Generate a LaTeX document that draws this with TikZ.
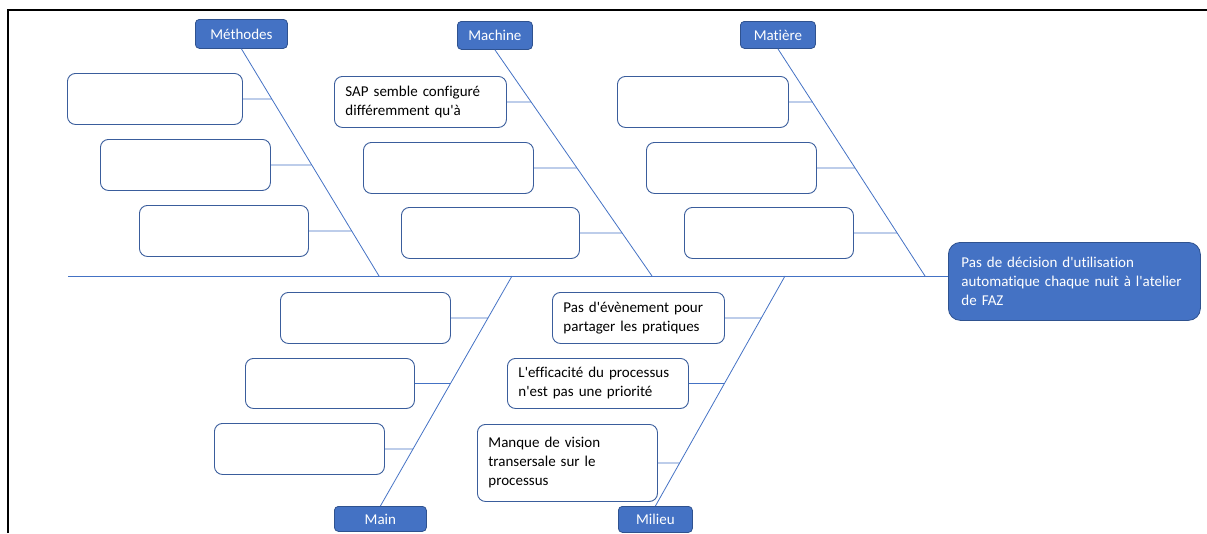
\documentclass[tikz,border=0pt]{standalone}
\usepackage{fontspec}
\setmainfont{Carlito}[Ligatures={TeXOff,CommonOff}]
\usetikzlibrary{intersections}
\definecolor{catfill}{HTML}{4472C4}
\definecolor{catedge}{HTML}{2F528F}
\definecolor{causeedge}{HTML}{3A5D9C}
\definecolor{bonecolor}{HTML}{4472C4}
% horizontal rib from a cause box (#2) to its bone path (#1)
\newcommand\ribto[2]{%
  \path[name path=rib#2] (#2.east) -- ++(300,0);
  \draw[bone, name intersections={of=#1 and rib#2}] (#2.east) -- (intersection-1);}
\begin{document}
\begin{tikzpicture}[x=1pt,y=-1pt,
  every node/.style={font=\fontsize{15}{19}\selectfont},
  category/.style={fill=catfill, draw=catedge, line width=0.8pt, rounded corners=4pt,
    text=white, anchor=north west, inner sep=0pt},
  cause/.style={draw=causeedge, fill=white, line width=0.9pt, rounded corners=8pt,
    anchor=north west, align=left, inner xsep=11pt, inner ysep=0pt, text=black},
  effectbox/.style={fill=catfill, draw=catedge, line width=0.8pt, rounded corners=12pt,
    text=white, anchor=north west, align=left, inner xsep=13pt, inner ysep=0pt},
  bone/.style={draw=bonecolor, line width=0.8pt}]
\useasboundingbox (0,0) rectangle (1207,533);

% page frame
\draw[line width=1.4pt] (8,533) -- (8,10) -- (1207,10);

% categories
\node[category, minimum width=92pt, minimum height=29pt] (meth) at (195,19) {Méthodes};
\node[category, minimum width=75pt, minimum height=28pt] (mach) at (457,21) {Machine};
\node[category, minimum width=75pt, minimum height=27pt] (mat)  at (740,21) {Matière};
\node[category, minimum width=92pt, minimum height=25pt] (main) at (334,506) {Main};
\node[category, minimum width=74pt, minimum height=26pt] (mil)  at (618,506) {Milieu};

% effect
\node[effectbox, minimum width=250pt, text width=226pt, minimum height=78pt] (eff) at (948,242)
  {Pas de décision d'utilisation\\automatique chaque nuit à l'atelier\\de FAZ};

% spine
\coordinate (tail) at (68,276);
\draw[bone] (tail) -- (tail -| eff.west);

% bones
\coordinate (methS) at (379,276);
\coordinate (machS) at (652,276);
\coordinate (matS)  at (925,276);
\coordinate (mainS) at (512,276);
\coordinate (milS)  at (785,276);
\draw[bone, name path=bmeth] (meth.south) -- (methS);
\draw[bone, name path=bmach] (mach.south) -- (machS);
\draw[bone, name path=bmat]  (mat.south)  -- (matS);
\draw[bone, name path=bmain] (main.north) -- (mainS);
\draw[bone, name path=bmil]  (mil.north)  -- (milS);

% causes: Méthodes
\node[cause, minimum width=175pt, text width=153pt, minimum height=51pt] (m1) at (67,73) {};
\node[cause, minimum width=170pt, text width=148pt, minimum height=51pt] (m2) at (100,139) {};
\node[cause, minimum width=169pt, text width=147pt, minimum height=51pt] (m3) at (139,205) {};
% causes: Machine
\node[cause, minimum width=171pt, text width=150pt, minimum height=51pt] (a1) at (334,76)
  {SAP semble configuré\\différemment qu'à};
\node[cause, minimum width=170pt, text width=148pt, minimum height=51pt] (a2) at (363,142) {};
\node[cause, minimum width=178pt, text width=156pt, minimum height=51pt] (a3) at (401,207) {};
% causes: Matière
\node[cause, minimum width=171pt, text width=149pt, minimum height=51pt] (t1) at (617,76) {};
\node[cause, minimum width=170pt, text width=148pt, minimum height=51pt] (t2) at (646,142) {};
\node[cause, minimum width=169pt, text width=147pt, minimum height=51pt] (t3) at (684,207) {};
% causes: Main
\node[cause, minimum width=170pt, text width=148pt, minimum height=51pt] (h1) at (280,292) {};
\node[cause, minimum width=169pt, text width=147pt, minimum height=50pt] (h2) at (245,358) {};
\node[cause, minimum width=170pt, text width=148pt, minimum height=51pt] (h3) at (214,423) {};
% causes: Milieu
\node[cause, minimum width=171pt, text width=150pt, minimum height=51pt] (e1) at (552,292)
  {Pas d'évènement pour\\partager les pratiques};
\node[cause, minimum width=180pt, text width=159pt, minimum height=50pt] (e2) at (507,358)
  {L'efficacité du processus\\n'est pas une priorité};
\node[cause, minimum width=180pt, text width=158pt, minimum height=77pt] (e3) at (477,424)
  {Manque de vision\\transersale sur le\\processus};

% horizontal ribs from each cause to its bone
\ribto{bmeth}{m1} \ribto{bmeth}{m2} \ribto{bmeth}{m3}
\ribto{bmach}{a1} \ribto{bmach}{a2} \ribto{bmach}{a3}
\ribto{bmat}{t1}  \ribto{bmat}{t2}  \ribto{bmat}{t3}
\ribto{bmain}{h1} \ribto{bmain}{h2} \ribto{bmain}{h3}
\ribto{bmil}{e1}  \ribto{bmil}{e2}  \ribto{bmil}{e3}
\end{tikzpicture}
\end{document}
